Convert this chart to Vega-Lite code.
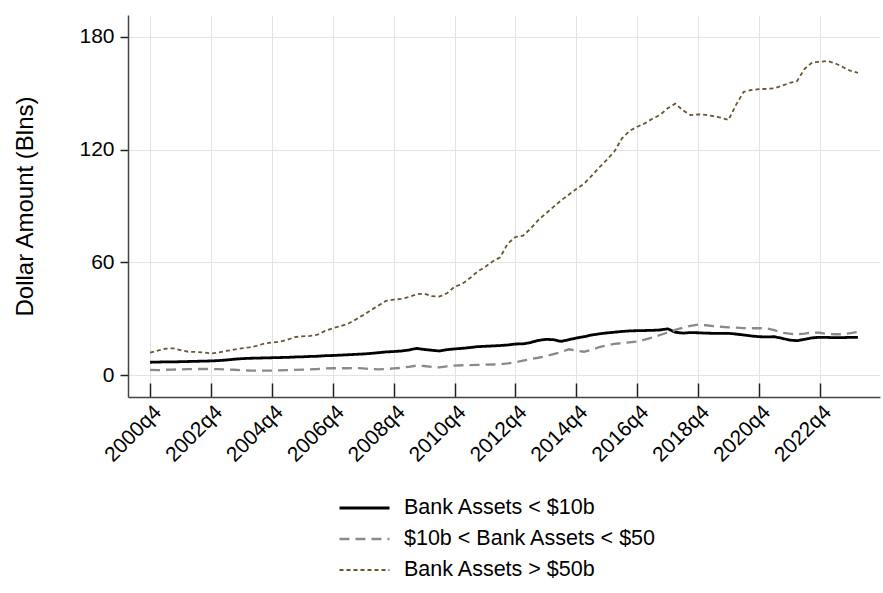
{
  "$schema": "https://vega.github.io/schema/vega-lite/v6.json",
  "autosize": "none",
  "width": 752,
  "height": 382,
  "padding": {"left": 128, "top": 15, "right": 3, "bottom": 196},
  "background": "white",
  "config": {
    "view": {"stroke": null},
    "font": "Liberation Sans",
    "axis": {
      "labelFont": "Liberation Sans",
      "titleFont": "Liberation Sans",
      "labelColor": "#000",
      "titleColor": "#000",
      "domainColor": "#444",
      "tickColor": "#222",
      "gridColor": "#e3e3e3",
      "gridWidth": 1
    }
  },
  "data": {
    "values": [
      {"t":0,"small":6.8,"mid":2.7,"large":11.9},
      {"t":1,"small":6.9,"mid":2.6,"large":13.0},
      {"t":2,"small":7.0,"mid":2.8,"large":14.0},
      {"t":3,"small":7.0,"mid":2.9,"large":14.2},
      {"t":4,"small":7.1,"mid":3.0,"large":13.3},
      {"t":5,"small":7.2,"mid":3.1,"large":12.4},
      {"t":6,"small":7.3,"mid":3.2,"large":12.3},
      {"t":7,"small":7.4,"mid":3.2,"large":12.0},
      {"t":8,"small":7.5,"mid":3.2,"large":11.5},
      {"t":9,"small":7.7,"mid":3.1,"large":12.0},
      {"t":10,"small":8.0,"mid":3.0,"large":12.8},
      {"t":11,"small":8.4,"mid":2.8,"large":13.5},
      {"t":12,"small":8.7,"mid":2.6,"large":14.2},
      {"t":13,"small":8.9,"mid":2.4,"large":14.7},
      {"t":14,"small":9.0,"mid":2.3,"large":15.5},
      {"t":15,"small":9.1,"mid":2.3,"large":16.8},
      {"t":16,"small":9.2,"mid":2.3,"large":17.3},
      {"t":17,"small":9.3,"mid":2.5,"large":17.7},
      {"t":18,"small":9.4,"mid":2.6,"large":18.7},
      {"t":19,"small":9.6,"mid":2.7,"large":20.2},
      {"t":20,"small":9.7,"mid":2.9,"large":20.6},
      {"t":21,"small":9.9,"mid":3.0,"large":20.8},
      {"t":22,"small":10.0,"mid":3.2,"large":21.5},
      {"t":23,"small":10.3,"mid":3.5,"large":23.5},
      {"t":24,"small":10.4,"mid":3.6,"large":24.9},
      {"t":25,"small":10.6,"mid":3.6,"large":26.0},
      {"t":26,"small":10.8,"mid":3.6,"large":27.3},
      {"t":27,"small":11.0,"mid":3.7,"large":29.5},
      {"t":28,"small":11.2,"mid":3.5,"large":31.9},
      {"t":29,"small":11.5,"mid":3.2,"large":34.5},
      {"t":30,"small":11.9,"mid":3.0,"large":37.0},
      {"t":31,"small":12.3,"mid":3.2,"large":39.5},
      {"t":32,"small":12.5,"mid":3.5,"large":40.2},
      {"t":33,"small":12.8,"mid":3.8,"large":40.5},
      {"t":34,"small":13.3,"mid":4.4,"large":41.5},
      {"t":35,"small":14.2,"mid":5.0,"large":43.0},
      {"t":36,"small":13.6,"mid":4.8,"large":43.3},
      {"t":37,"small":13.2,"mid":4.3,"large":42.0},
      {"t":38,"small":12.8,"mid":4.1,"large":41.8},
      {"t":39,"small":13.5,"mid":4.6,"large":43.5},
      {"t":40,"small":13.9,"mid":5.0,"large":47.0},
      {"t":41,"small":14.2,"mid":5.2,"large":48.5},
      {"t":42,"small":14.6,"mid":5.3,"large":51.5},
      {"t":43,"small":15.1,"mid":5.4,"large":55.0},
      {"t":44,"small":15.3,"mid":5.5,"large":57.5},
      {"t":45,"small":15.5,"mid":5.6,"large":60.5},
      {"t":46,"small":15.7,"mid":5.7,"large":62.7},
      {"t":47,"small":16.0,"mid":6.2,"large":70.0},
      {"t":48,"small":16.5,"mid":6.8,"large":73.5},
      {"t":49,"small":16.6,"mid":7.7,"large":74.2},
      {"t":50,"small":17.3,"mid":8.5,"large":78.0},
      {"t":51,"small":18.4,"mid":9.2,"large":82.5},
      {"t":52,"small":19.0,"mid":10.0,"large":86.0},
      {"t":53,"small":18.8,"mid":11.1,"large":89.5},
      {"t":54,"small":17.9,"mid":12.2,"large":93.0},
      {"t":55,"small":18.8,"mid":13.7,"large":96.0},
      {"t":56,"small":19.7,"mid":13.0,"large":99.0},
      {"t":57,"small":20.4,"mid":12.4,"large":101.8},
      {"t":58,"small":21.3,"mid":13.5,"large":106.0},
      {"t":59,"small":21.9,"mid":14.8,"large":110.5},
      {"t":60,"small":22.4,"mid":15.8,"large":114.5},
      {"t":61,"small":22.8,"mid":16.6,"large":119.0},
      {"t":62,"small":23.2,"mid":17.0,"large":126.0},
      {"t":63,"small":23.5,"mid":17.4,"large":130.0},
      {"t":64,"small":23.6,"mid":17.8,"large":132.2},
      {"t":65,"small":23.7,"mid":18.8,"large":134.0},
      {"t":66,"small":23.8,"mid":20.0,"large":136.5},
      {"t":67,"small":24.0,"mid":21.3,"large":138.5},
      {"t":68,"small":24.6,"mid":22.6,"large":142.0},
      {"t":69,"small":22.8,"mid":24.0,"large":144.5},
      {"t":70,"small":22.3,"mid":25.2,"large":141.0},
      {"t":71,"small":22.6,"mid":26.2,"large":138.4},
      {"t":72,"small":22.5,"mid":26.8,"large":138.8},
      {"t":73,"small":22.3,"mid":26.5,"large":138.5},
      {"t":74,"small":22.2,"mid":26.0,"large":137.9},
      {"t":75,"small":22.2,"mid":25.7,"large":137.0},
      {"t":76,"small":22.2,"mid":25.4,"large":135.8},
      {"t":77,"small":21.8,"mid":25.2,"large":144.0},
      {"t":78,"small":21.3,"mid":25.0,"large":150.8},
      {"t":79,"small":20.8,"mid":24.9,"large":151.8},
      {"t":80,"small":20.4,"mid":24.9,"large":152.2},
      {"t":81,"small":20.3,"mid":24.9,"large":152.4},
      {"t":82,"small":20.4,"mid":23.9,"large":152.6},
      {"t":83,"small":19.6,"mid":22.5,"large":154.0},
      {"t":84,"small":18.6,"mid":22.0,"large":155.5},
      {"t":85,"small":18.3,"mid":21.7,"large":156.5},
      {"t":86,"small":19.0,"mid":22.1,"large":163.0},
      {"t":87,"small":19.8,"mid":22.6,"large":166.5},
      {"t":88,"small":20.1,"mid":22.5,"large":166.8},
      {"t":89,"small":20.0,"mid":21.8,"large":167.2},
      {"t":90,"small":19.9,"mid":21.7,"large":166.0},
      {"t":91,"small":19.9,"mid":21.7,"large":164.0},
      {"t":92,"small":20.1,"mid":22.3,"large":162.0},
      {"t":93,"small":20.1,"mid":23.0,"large":160.9}
    ]
  },
  "transform": [
    {"fold": ["small", "mid", "large"], "as": ["series", "value"]}
  ],
  "mark": {"type": "line", "interpolate": "linear"},
  "encoding": {
    "x": {
      "field": "t",
      "type": "quantitative",
      "scale": {"domain": [-2.9, 95.9], "nice": false, "zero": false},
      "axis": {
        "title": null,
        "values": [0, 8, 16, 24, 32, 40, 48, 56, 64, 72, 80, 88],
        "labelExpr": "(2000 + datum.value / 4) + 'q4'",
        "labelAngle": -45,
        "labelFontSize": 21,
        "labelOverlap": false,
        "labelBound": false,
        "tickSize": -14,
        "tickWidth": 1.5,
        "labelPadding": 18,
        "grid": true,
        "domainWidth": 1.5
      }
    },
    "y": {
      "field": "value",
      "type": "quantitative",
      "scale": {"domain": [-11.7, 191.7], "nice": false, "zero": false},
      "axis": {
        "title": "Dollar Amount (Blns)",
        "titleFontSize": 24,
        "titleFontWeight": "normal",
        "titlePadding": 41,
        "values": [0, 60, 120, 180],
        "labelFontSize": 21,
        "labelOverlap": false,
        "tickSize": 8,
        "tickWidth": 1.5,
        "labelPadding": 6,
        "grid": true,
        "domainWidth": 1.5
      }
    },
    "color": {
      "field": "series",
      "type": "nominal",
      "scale": {"domain": ["small", "mid", "large"], "range": ["#000000", "#8a8a8a", "#6a5630"]},
      "legend": {
        "title": null,
        "orient": "none",
        "legendX": 210,
        "legendY": 478,
        "direction": "vertical",
        "symbolType": "stroke",
        "symbolSize": 2500,
        "symbolStrokeWidth": 2,
        "labelFontSize": 21.5,
        "labelFont": "Liberation Sans",
        "labelColor": "#000",
        "labelLimit": 400,
        "labelOffset": 13,
        "clipHeight": 30,
        "rowPadding": 1,
        "labelExpr": "datum.label == 'small' ? 'Bank Assets < $10b' : datum.label == 'mid' ? '$10b < Bank Assets < $50' : 'Bank Assets > $50b'"
      }
    },
    "strokeDash": {
      "field": "series",
      "type": "nominal",
      "scale": {"domain": ["small", "mid", "large"], "range": [[1, 0], [10, 6], [4, 3]]},
      "legend": {
        "title": null,
        "orient": "none",
        "legendX": 210,
        "legendY": 478,
        "direction": "vertical",
        "symbolType": "stroke",
        "symbolSize": 2500,
        "symbolStrokeWidth": 2,
        "labelFontSize": 21.5,
        "labelFont": "Liberation Sans",
        "labelColor": "#000",
        "labelLimit": 400,
        "labelOffset": 13,
        "clipHeight": 30,
        "rowPadding": 1,
        "labelExpr": "datum.label == 'small' ? 'Bank Assets < $10b' : datum.label == 'mid' ? '$10b < Bank Assets < $50' : 'Bank Assets > $50b'"
      }
    },
    "strokeWidth": {
      "field": "series",
      "type": "nominal",
      "scale": {"domain": ["small", "mid", "large"], "range": [2.8, 1.8, 2.7]},
      "legend": null
    }
  }
}
